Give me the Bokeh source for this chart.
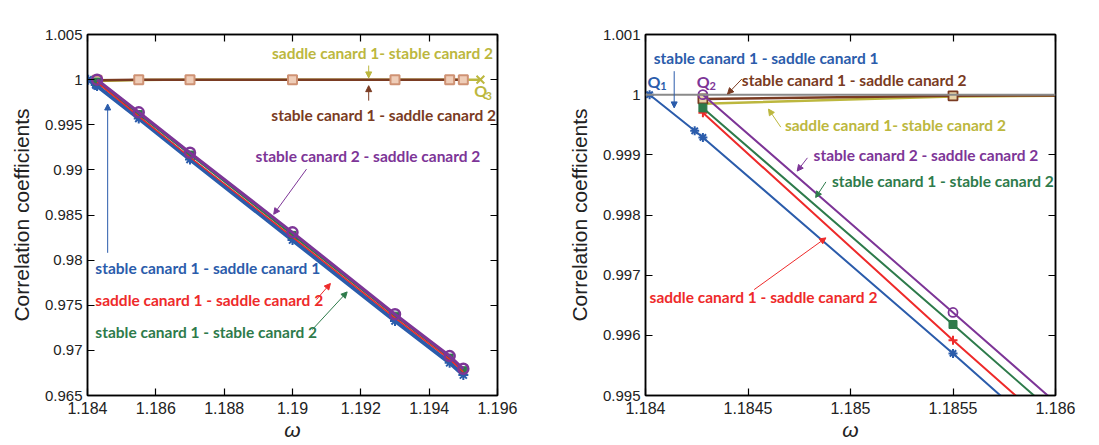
from bokeh.plotting import figure
from bokeh.layouts import row
from bokeh.models import (Range1d, FixedTicker, LinearAxis, CustomJSTickFormatter,
                          Label, Arrow, NormalHead, Span)
from bokeh.embed import file_html
from bokeh.resources import INLINE

# ---------------- data ----------------
omega = [1.18428, 1.1855, 1.187, 1.19, 1.193, 1.1946, 1.195]
blue_x = [1.18402, 1.18424] + omega
blue_y = [1.0, 0.99940, 0.99929, 0.99570, 0.99116, 0.98222, 0.97326, 0.96862, 0.96726]
red_y = [0.99970, 0.99592, 0.99140, 0.98255, 0.97360, 0.96900, 0.96760]
green_y = [0.99978, 0.99618, 0.99170, 0.98280, 0.97385, 0.96920, 0.96780]
purple_y = [1.0, 0.99638, 0.99190, 0.98308, 0.97400, 0.96937, 0.96796]
brown_y = [0.99993, 0.99998, 1.0, 1.0, 1.0, 1.0, 1.0]
olive_x = omega + [1.1955]
olive_y = [0.99985, 0.99997, 1.0, 1.0, 1.0, 1.0, 1.0, 1.0]

a_xticks = [1.184, 1.186, 1.188, 1.19, 1.192, 1.194, 1.196]
a_yticks = [0.965, 0.97, 0.975, 0.98, 0.985, 0.99, 0.995, 1.0, 1.005]
b_xticks = [1.184, 1.1845, 1.185, 1.1855, 1.186]
b_yticks = [0.995, 0.996, 0.997, 0.998, 0.999, 1.0, 1.001]

BLUE = "#2b5cab"
RED = "#ee2a2a"
GREEN = "#2e7b4b"
PURPLE = "#7d3597"
BROWN = "#7a3b22"
OLIVE = "#bcb73e"

NUMFONT = "Liberation Sans"
ANNFONT = "Lato"
fmt = CustomJSTickFormatter(code="return parseFloat(tick.toFixed(6)).toString();")


def base_fig(xr, yr, xt, yt, width, bl, br):
    p = figure(width=width, height=445, x_range=Range1d(*xr), y_range=Range1d(*yr),
               output_backend="svg", toolbar_location=None,
               min_border_left=bl, min_border_right=br, min_border_top=34, min_border_bottom=50)
    p.grid.visible = False
    p.outline_line_color = "black"
    p.outline_line_width = 1.5
    p.add_layout(LinearAxis(), "right")
    p.add_layout(LinearAxis(), "above")
    for ax in p.axis:
        ax.axis_line_width = 1.5
        ax.axis_line_color = "black"
        ax.major_tick_in = 7
        ax.major_tick_out = 0
        ax.major_tick_line_width = 1.2
        ax.minor_tick_line_color = None
    for ax in p.xaxis:
        ax.ticker = FixedTicker(ticks=xt)
    for ax in p.yaxis:
        ax.ticker = FixedTicker(ticks=yt)
    for ax in p.right + p.above:
        ax.formatter = CustomJSTickFormatter(code="return '';")
        ax.major_label_standoff = 0
    xa = p.below[0]
    xa.formatter = fmt
    xa.major_label_text_font = NUMFONT
    xa.major_label_text_font_size = "16px"
    xa.major_label_text_color = "#222222"
    xa.major_label_standoff = 6
    xa.axis_label = "ω"
    xa.axis_label_text_font = NUMFONT
    xa.axis_label_text_font_style = "italic"
    xa.axis_label_text_font_size = "21px"
    xa.axis_label_text_color = "#222222"
    xa.axis_label_standoff = 1
    ya = p.left[0]
    ya.formatter = fmt
    ya.major_label_text_font = NUMFONT
    ya.major_label_text_font_size = "15px"
    ya.major_label_text_color = "#222222"
    ya.major_label_standoff = 5
    ya.axis_label = "Correlation coefficients"
    ya.axis_label_text_font = NUMFONT
    ya.axis_label_text_font_style = "normal"
    ya.axis_label_text_font_size = "21px"
    ya.axis_label_text_color = "#222222"
    ya.axis_label_standoff = 9
    return p


def label(p, x, y, text, color, size="15.5px"):
    p.add_layout(Label(x=x, y=y, text=text, text_font=ANNFONT, text_font_size=size,
                       text_font_style="bold", text_color=color,
                       text_baseline="middle", text_align="left"))


def arrow(p, x0, y0, x1, y1, color):
    p.add_layout(Arrow(end=NormalHead(size=6, fill_color=color, line_color=color, line_width=1),
                       x_start=x0, y_start=y0, x_end=x1, y_end=y1,
                       line_color=color, line_width=1))


def q_label(p, x, y, sub, color, dx, dy):
    label(p, x, y, "Q", color, "16px")
    label(p, x + dx, y - dy, sub, color, "11px")


# ---------------- panel (a) ----------------
pa = base_fig((1.184, 1.196), (0.965, 1.005), a_xticks, a_yticks, 549, 87, 52)
pa.line(olive_x, olive_y, line_color=OLIVE, line_width=2.5)
pa.line(omega, brown_y, line_color=BROWN, line_width=2.5)
pa.scatter(omega, brown_y, marker="square", size=9, line_color="#cf9274", fill_color="#efcdb8", line_width=2)
pa.scatter(olive_x[-1:], olive_y[-1:], marker="x", size=11, line_color=OLIVE, line_width=2)
pa.line(blue_x, blue_y, line_color=BLUE, line_width=4)
pa.scatter(blue_x, blue_y, marker="asterisk", size=10, line_color=BLUE, line_width=2)
pa.line(omega, green_y, line_color=GREEN, line_width=2)
pa.scatter(omega, green_y, marker="square", size=7, line_color=GREEN, fill_color=GREEN)
pa.line(omega, red_y, line_color=RED, line_width=1.5)
pa.line(omega, purple_y, line_color=PURPLE, line_width=3)
pa.scatter(omega, purple_y, marker="circle", size=10, line_color=PURPLE, fill_color=None, line_width=2.5)

label(pa, 1.18940, 1.00292, "saddle canard 1- stable canard 2", OLIVE)
arrow(pa, 1.19223, 1.00156, 1.19223, 1.00019, OLIVE)
arrow(pa, 1.19223, 0.99767, 1.19223, 0.99933, BROWN)
label(pa, 1.18938, 0.99608, "stable canard 1 - saddle canard 2", BROWN)
q_label(pa, 1.19532, 0.99878, "3", OLIVE, 0.00033, 0.0006)
label(pa, 1.18892, 0.99156, "stable canard 2 - saddle canard 2", PURPLE)
arrow(pa, 1.19041, 0.99008, 1.18945, 0.98508, PURPLE)
label(pa, 1.18423, 0.97914, "stable canard 1 - saddle canard 1", BLUE)
arrow(pa, 1.18459, 0.98081, 1.18459, 0.99730, BLUE)
label(pa, 1.18423, 0.97563, "saddle canard 1 - saddle canard 2", RED)
arrow(pa, 1.19070, 0.97563, 1.19111, 0.97741, RED)
label(pa, 1.18423, 0.97203, "stable canard 1 - stable canard 2", GREEN)
arrow(pa, 1.19058, 0.97230, 1.19160, 0.97648, GREEN)
pa.add_layout(Label(x=1.18166, y=1.00656, text="(a)", text_font="Liberation Sans",
                    text_font_size="18px", text_font_style="bold", text_color="black",
                    text_baseline="middle", text_align="left"))

# ---------------- panel (b) ----------------
pb = base_fig((1.184, 1.186), (0.995, 1.001), b_xticks, b_yticks, 550, 96, 44)
pb.add_layout(Span(location=1.0, dimension="width", line_color="#8a8a8a", line_width=2))
pb.line(olive_x, olive_y, line_color=OLIVE, line_width=2.5)
pb.line(omega, brown_y, line_color=BROWN, line_width=2.5)
pb.scatter(omega, brown_y, marker="square", size=9, line_color=BROWN, fill_color="#e8d3a8", line_width=1.8)
pb.line(blue_x, blue_y, line_color=BLUE, line_width=2)
pb.scatter(blue_x, blue_y, marker="asterisk", size=9, line_color=BLUE, line_width=2)
pb.line(omega, red_y, line_color=RED, line_width=2)
pb.scatter(omega, red_y, marker="cross", size=9, line_color=RED, line_width=2)
pb.line(omega, green_y, line_color=GREEN, line_width=2)
pb.scatter(omega, green_y, marker="square", size=8, line_color=GREEN, fill_color=GREEN)
pb.line(omega, purple_y, line_color=PURPLE, line_width=2)
pb.scatter(omega, purple_y, marker="circle", size=9, line_color=PURPLE, fill_color=None, line_width=1.8)

label(pb, 1.18404, 1.00061, "stable canard 1 - saddle canard 1", BLUE)
arrow(pb, 1.18414, 1.00039, 1.18414, 0.99978, BLUE)
q_label(pb, 1.18401, 1.00022, "1", BLUE, 0.000062, 0.00008)
q_label(pb, 1.18425, 1.00022, "2", PURPLE, 0.000062, 0.00008)
label(pb, 1.18447, 1.00025, "stable canard 1 - saddle canard 2", BROWN)
arrow(pb, 1.18447, 1.00026, 1.18440, 1.00001, BROWN)
label(pb, 1.18468, 0.99949, "saddle canard 1- stable canard 2", OLIVE)
arrow(pb, 1.18466, 0.99946, 1.18460, 0.99976, OLIVE)
label(pb, 1.18482, 0.99899, "stable canard 2 - saddle canard 2", PURPLE)
arrow(pb, 1.18479, 0.99895, 1.18474, 0.99873, PURPLE)
label(pb, 1.18491, 0.99856, "stable canard 1 - stable canard 2", GREEN)
arrow(pb, 1.18488, 0.99855, 1.18483, 0.99829, GREEN)
label(pb, 1.18402, 0.99663, "saddle canard 1 - saddle canard 2", RED)
arrow(pb, 1.18453, 0.99676, 1.18488, 0.99762, RED)
pb.add_layout(Label(x=1.18391, y=1.00124, text="(b)", text_font="Liberation Sans",
                    text_font_size="18px", text_font_style="bold", text_color="black",
                    text_baseline="middle", text_align="left"))

layout = row(pa, pb)
open("out.html", "w").write(file_html(layout, INLINE))
